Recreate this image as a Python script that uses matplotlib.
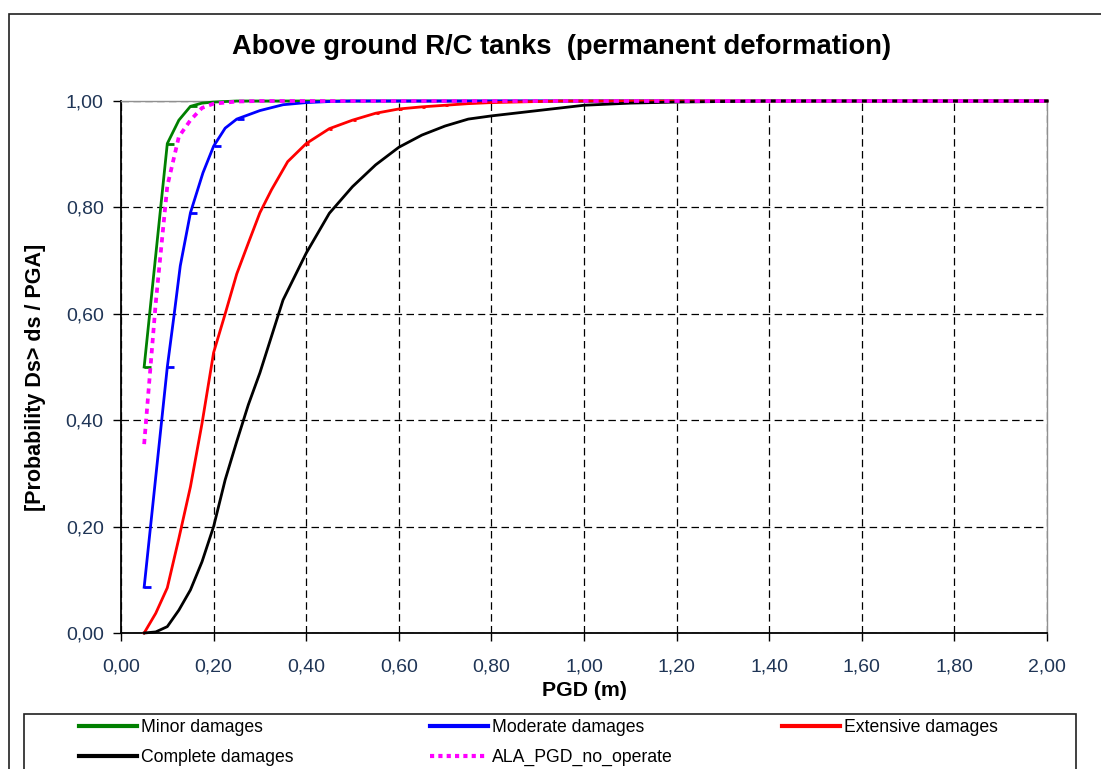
import matplotlib
matplotlib.use("Agg")
import matplotlib.pyplot as plt
from matplotlib.lines import Line2D
from matplotlib.patches import Rectangle

plt.rcParams['font.family'] = ['Liberation Sans', 'DejaVu Sans']

# PGD steps (m) at which each fragility curve is tabulated
pgd_minor = [0.05, 0.10, 0.125, 0.15, 0.175, 0.20, 0.25, 0.30, 0.40, 0.60,
             0.80, 1.00, 1.20, 1.40, 1.60, 1.80, 2.00]
minor = [0.50, 0.92, 0.964, 0.99, 0.996, 0.998, 1.0, 1.0, 1.0, 1.0,
         1.0, 1.0, 1.0, 1.0, 1.0, 1.0, 1.0]
minor_marks = [0.05, 0.10, 0.15]

pgd_moderate = [0.05, 0.10, 0.115, 0.128, 0.15, 0.177, 0.20, 0.225, 0.25, 0.30,
                0.35, 0.40, 0.45, 0.50, 0.60, 0.80, 1.00, 1.20, 1.40, 1.60,
                1.80, 2.00]
moderate = [0.086, 0.50, 0.60, 0.69, 0.79, 0.865, 0.915, 0.949, 0.966, 0.982,
            0.993, 0.997, 0.999, 1.0, 1.0, 1.0, 1.0, 1.0, 1.0, 1.0,
            1.0, 1.0]
moderate_marks = [0.05, 0.10, 0.15, 0.20, 0.25]

pgd_extensive = [0.05, 0.075, 0.10, 0.125, 0.15, 0.175, 0.20, 0.225, 0.25, 0.275,
                 0.30, 0.325, 0.36, 0.40, 0.45, 0.50, 0.55, 0.60, 0.65, 0.70,
                 0.75, 0.80, 0.85, 0.90, 0.95, 1.00, 1.20, 1.40, 1.60, 1.80, 2.00]
extensive = [0.0, 0.037, 0.085, 0.178, 0.275, 0.394, 0.527, 0.60, 0.675, 0.733,
             0.79, 0.833, 0.886, 0.92, 0.948, 0.964, 0.977, 0.985, 0.989, 0.992,
             0.995, 0.997, 0.998, 0.999, 1.0, 1.0, 1.0, 1.0, 1.0, 1.0, 1.0]
extensive_marks = [0.40, 0.45, 0.50, 0.55, 0.60, 0.65, 0.70]

pgd_complete = [0.05, 0.075, 0.10, 0.125, 0.15, 0.175, 0.20, 0.225, 0.25, 0.275,
                0.30, 0.35, 0.40, 0.45, 0.50, 0.55, 0.60, 0.65, 0.70, 0.75,
                0.80, 0.85, 0.90, 0.95, 1.00, 1.05, 1.10, 1.15, 1.20, 1.30,
                1.40, 1.60, 1.80, 2.00]
complete = [0.0, 0.002, 0.012, 0.043, 0.081, 0.134, 0.20, 0.288, 0.36, 0.429,
            0.489, 0.626, 0.714, 0.789, 0.839, 0.88, 0.913, 0.936, 0.953, 0.966,
            0.972, 0.977, 0.982, 0.987, 0.992, 0.994, 0.996, 0.997, 0.998, 0.999,
            1.0, 1.0, 1.0, 1.0]

pgd_ala = [0.05, 0.075, 0.10, 0.125, 0.15, 0.175, 0.20, 0.25, 0.30, 0.40,
           0.60, 0.80, 1.00, 1.20, 1.40, 1.60, 1.80, 2.00]
ala = [0.355, 0.62, 0.84, 0.933, 0.964, 0.987, 0.995, 0.999, 1.0, 1.0,
       1.0, 1.0, 1.0, 1.0, 1.0, 1.0, 1.0, 1.0]

x_ticks = [0.0, 0.2, 0.4, 0.6, 0.8, 1.0, 1.2, 1.4, 1.6, 1.8, 2.0]
x_tick_labels = ["0,00", "0,20", "0,40", "0,60", "0,80", "1,00",
                 "1,20", "1,40", "1,60", "1,80", "2,00"]
y_ticks = [0.0, 0.2, 0.4, 0.6, 0.8, 1.0]
y_tick_labels = ["0,00", "0,20", "0,40", "0,60", "0,80", "1,00"]

W, H = 1101, 769
fig = plt.figure(figsize=(W / 100, H / 100), dpi=100)
ax = fig.add_axes([121 / W, 1 - 633 / H, (1047 - 121) / W, (633 - 101) / H])

# short right-pointing dash used as data marker
dash = [(0, 0), (1, 0)]
lw = 2.0


def marks_at(xs, keep):
    return [i for i, x in enumerate(xs) if any(abs(x - k) < 1e-9 for k in keep)]


ax.plot(pgd_minor, minor, color='#008000', lw=lw, marker=dash, ms=10, mew=lw,
        markevery=marks_at(pgd_minor, minor_marks), clip_on=False, zorder=3)
ax.plot(pgd_moderate, moderate, color='#0000ff', lw=lw, marker=dash, ms=10, mew=lw,
        markevery=marks_at(pgd_moderate, moderate_marks),
        clip_on=False, zorder=3)
ax.plot(pgd_extensive, extensive, color='#ff0000', lw=lw, marker=dash, ms=4, mew=lw,
        markevery=marks_at(pgd_extensive, extensive_marks),
        clip_on=False, zorder=3)
ax.plot(pgd_complete, complete, color='black', lw=lw, clip_on=False, zorder=3)
ax.plot(pgd_ala, ala, color='#ff00ff', lw=2.7, ls=(0, (1.4, 1.3)),
        clip_on=False, zorder=4)

ax.set_xlim(0, 2.0)
ax.set_ylim(0, 1.0)
ax.set_xticks(x_ticks)
ax.set_xticklabels(x_tick_labels)
ax.set_yticks(y_ticks)
ax.set_yticklabels(y_tick_labels)

tick_color = '#1f3556'
ax.tick_params(axis='both', direction='out', length=5.5, width=1, color='black',
               labelsize=14, labelcolor=tick_color)
ax.tick_params(axis='y', pad=7)
ax.tick_params(axis='x', pad=13)

ax.grid(True, color='black', ls=(0, (6, 3.5)), lw=0.9)
ax.set_axisbelow(True)
for s in ('left', 'bottom'):
    ax.spines[s].set_color('black')
    ax.spines[s].set_linewidth(1.3)
for s in ('top', 'right'):
    ax.spines[s].set_color('#909090')
    ax.spines[s].set_linewidth(1.0)

ax.set_xlabel('PGD (m)', fontsize=15.3, fontweight='bold')
ax.xaxis.set_label_coords(0.5, (633 - 691) / 532)
ax.xaxis.label.set_va('center')
ax.set_ylabel('[Probability Ds> ds / PGA]', fontsize=15.5, fontweight='bold')
ax.yaxis.set_label_coords((36 - 121) / 926, (633 - 377) / 532)
ax.yaxis.label.set_va('center')

fig.text(562 / W, 1 - 47 / H, 'Above ground R/C tanks  (permanent deformation)',
         ha='center', va='center', fontsize=19.7, fontweight='bold')

# outer frame and legend frame
fig.patches.append(Rectangle((9 / W, -0.2), 1.2, 1.2 - 14 / H,
                             transform=fig.transFigure, fill=False,
                             ec='#202020', lw=1.2))
fig.patches.append(Rectangle((24 / W, -0.2), (1076 - 24) / W, 0.2 + 1 - 714 / H,
                             transform=fig.transFigure, fill=False,
                             ec='#202020', lw=1.2))


def handle(color, ls='-', lwid=3):
    return Line2D([], [], color=color, ls=ls, lw=lwid)


columns = [
    (79, [handle('#008000'), handle('black')],
     ['Minor damages', 'Complete damages']),
    (430, [handle('#0000ff'), handle('#ff00ff', (0, (1, 1)), 3)],
     ['Moderate damages', 'ALA_PGD_no_operate']),
    (782, [handle('#ff0000')], ['Extensive damages']),
]
for x0, hs, labels in columns:
    fig.legend(hs, labels, loc='upper left',
               bbox_to_anchor=(x0 / W, 1 - 719 / H),
               frameon=False, fontsize=12.7, handlelength=3.3,
               handletextpad=0.2, borderpad=0, borderaxespad=0,
               labelspacing=0.72)

fig.savefig('out.png', dpi=100)
